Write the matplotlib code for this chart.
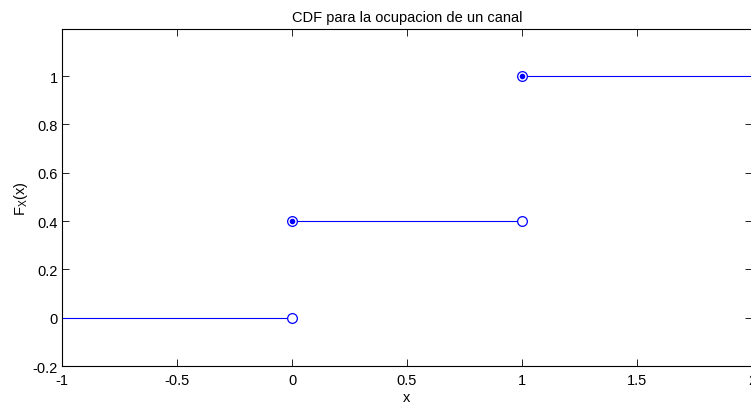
import matplotlib
matplotlib.use("Agg")
import matplotlib.pyplot as plt

plt.rcParams['font.family'] = ['Liberation Sans', 'DejaVu Sans']

# escalones de la CDF
seg_x = [[-1, 0], [0, 1], [1, 2]]
seg_y = [0, 0.4, 1]
open_x = [0, 1]
open_y = [0, 0.4]
closed_x = [0, 1]
closed_y = [0.4, 1]

xticks = [-1, -0.5, 0, 0.5, 1, 1.5, 2]
yticks = [-0.2, 0, 0.2, 0.4, 0.6, 0.8, 1]

fig = plt.figure(figsize=(7.51, 4.06), dpi=100)
ax = fig.add_axes([0.0826, 0.096, 0.9187, 0.830])

for xs, y in zip(seg_x, seg_y):
    ax.plot(xs, [y, y], color='blue', lw=0.8)

ax.plot(open_x, open_y, 'o', mfc='white', mec='blue', ms=7, mew=0.9, ls='none')
ax.plot(closed_x, closed_y, 'o', mfc='white', mec='blue', ms=7, mew=0.9, ls='none')
ax.plot(closed_x, closed_y, '.', color='blue', ms=6, ls='none')

ax.set_xlim(-1, 2)
ax.set_ylim(-0.2, 1.195)
ax.set_xticks(xticks)
ax.set_xticklabels(['-1', '-0.5', '0', '0.5', '1', '1.5', '2'])
ax.set_yticks(yticks)
ax.set_yticklabels(['-0.2', '0', '0.2', '0.4', '0.6', '0.8', '1'])
ax.tick_params(direction='in', top=True, right=True, labelsize=10.5, length=5, width=0.6)
ax.tick_params(axis='x', pad=5)
ax.tick_params(axis='y', pad=3)
for s in ax.spines.values():
    s.set_linewidth(0.8)

ax.set_xlabel('x', fontsize=10.5, labelpad=2)
ax.set_ylabel('$\\mathregular{F_X(x)}$', fontsize=10.5, labelpad=2)
ax.set_title('CDF para la ocupacion de un canal', fontsize=10.5, pad=6)

fig.savefig('out.png', dpi=100)
